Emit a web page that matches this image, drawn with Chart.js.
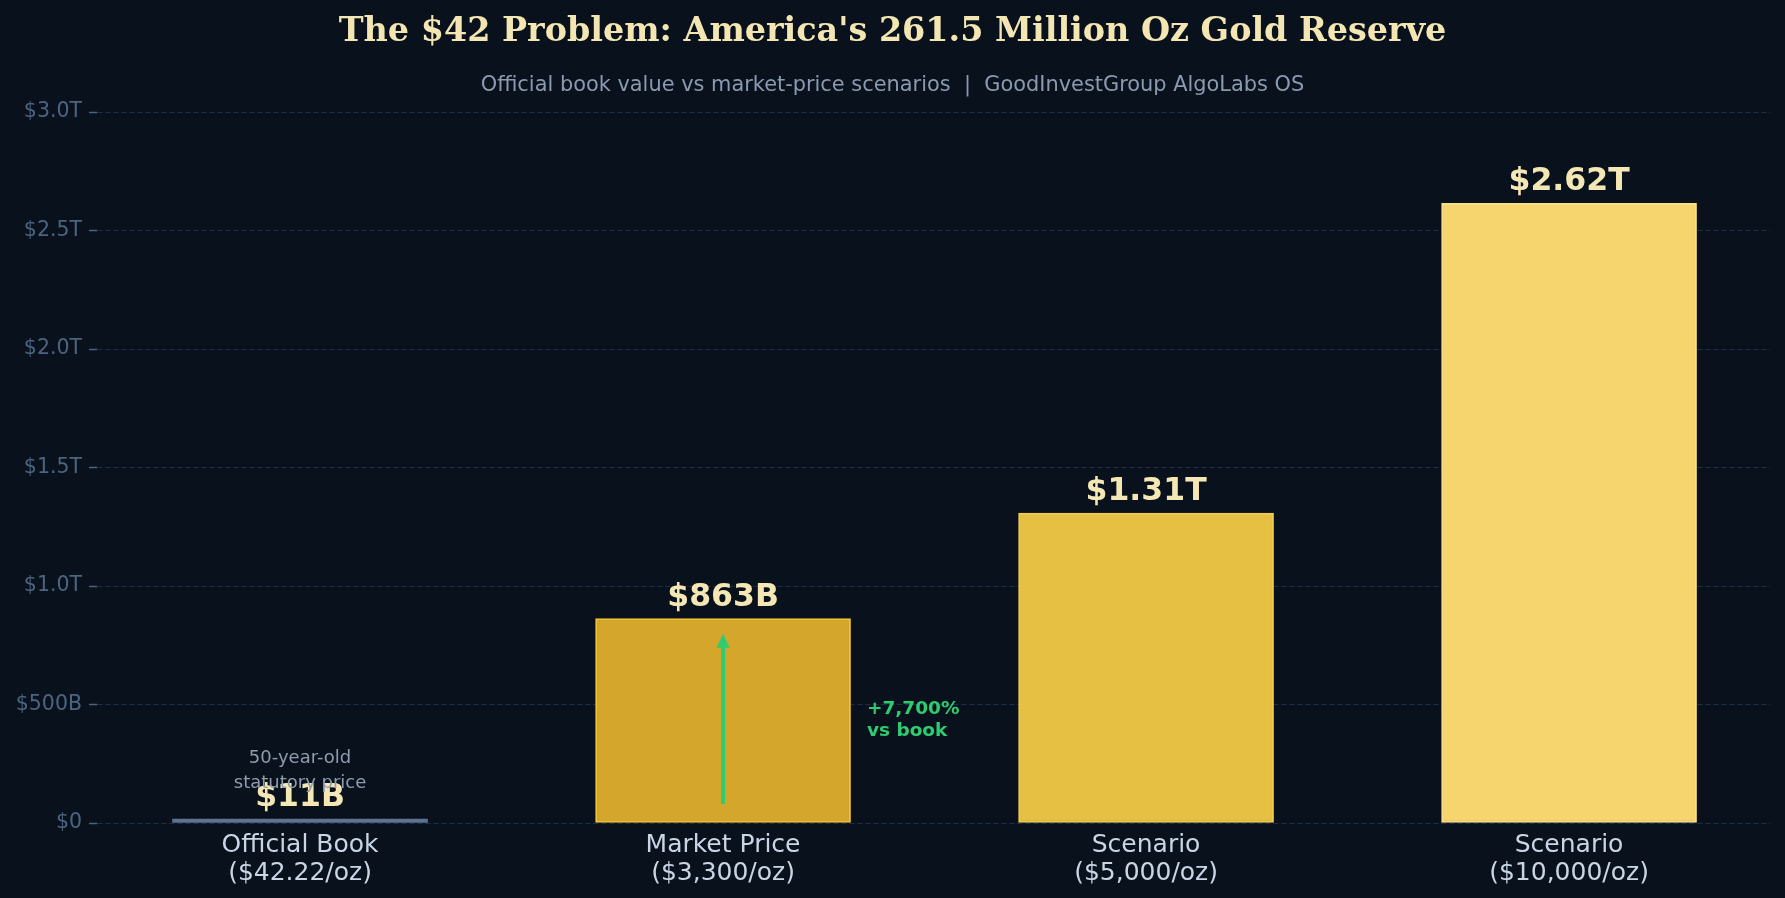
<!DOCTYPE html>
<html>
<head>
<meta charset="utf-8">
<script src="https://cdn.jsdelivr.net/npm/chart.js@4.4.1/dist/chart.umd.min.js"></script>
<style>
  html, body { margin: 0; padding: 0; background: #08111c; }
  #wrap { width: 1785px; height: 898px; }
</style>
</head>
<body>
<div id="wrap"><canvas id="goldChart" width="1785" height="898"></canvas></div>
<script>
// ---- data ----
const catTop    = ['Official Book', 'Market Price', 'Scenario', 'Scenario'];
const catBottom = ['($42.22/oz)', '($3,300/oz)', '($5,000/oz)', '($10,000/oz)'];
const valuesB   = [11.04, 862.95, 1307.5, 2615];   // $ billions
const valueLabels = ['$11B', '$863B', '$1.31T', '$2.62T'];
const yTicks    = [0, 500, 1000, 1500, 2000, 2500, 3000];

const TITLE    = "The $42 Problem: America's 261.5 Million Oz Gold Reserve";
const SUBTITLE = 'Official book value vs market-price scenarios  |  GoodInvestGroup AlgoLabs OS';

// annotations (data space)
const bookNote   = ['50-year-old', 'statutory price'];
const arrowFromB = 80;
const arrowToB   = 790;
const gainNote   = ['+7,700%', 'vs book'];

const BG = '#08111c';
const fills   = ['#5d7290', '#d4a72c', '#e6c043', '#f6d56e'];
const borders = ['#5d7290', '#f0c232', '#f3cc4f', '#fadf86'];

const fmtY = v => {
    if (v === 0) return '$0';
    if (v < 1000) return '$' + v + 'B';
    return '$' + (v / 1000).toFixed(1) + 'T';
};

// ---- custom drawing ----
const decor = {
    id: 'decor',
    beforeDraw(chart) {
        const ctx = chart.ctx;
        ctx.save();
        ctx.fillStyle = BG;
        ctx.fillRect(0, 0, chart.width, chart.height);
        ctx.restore();
    },
    afterDatasetsDraw(chart) {
        const ctx = chart.ctx;
        const xs = chart.scales.x, ys = chart.scales.y;
        const cx = chart.width / 2;
        ctx.save();

        // title + subtitle
        ctx.textAlign = 'center';
        ctx.textBaseline = 'middle';
        ctx.fillStyle = '#f3e6b3';
        ctx.font = 'bold 33.4px "DejaVu Serif"';
        ctx.fillText(TITLE, cx, 32);
        ctx.fillStyle = '#8b9ab0';
        ctx.font = '20.9px "DejaVu Sans"';
        ctx.fillText(SUBTITLE, cx, 86);

        // value labels above bars
        const meta = chart.getDatasetMeta(0);
        ctx.font = 'bold 31.5px "DejaVu Sans"';
        ctx.fillStyle = '#f5e7b5';
        meta.data.forEach((bar, i) => {
            ctx.fillText(valueLabels[i], bar.x, Math.min(bar.y, ys.getPixelForValue(0) - 4) - 21);
        });

        // note over the book bar
        ctx.font = '18px "DejaVu Sans"';
        ctx.fillStyle = '#8f9cae';
        const bx = xs.getPixelForValue(0);
        ctx.fillText(bookNote[0], bx, 758);
        ctx.fillText(bookNote[1], bx, 783);

        // green arrow inside market bar
        const ax = xs.getPixelForValue(1);
        const y0 = ys.getPixelForValue(arrowFromB);
        const y1 = ys.getPixelForValue(arrowToB);
        ctx.strokeStyle = '#2ecc71';
        ctx.fillStyle = '#2ecc71';
        ctx.lineWidth = 4;
        ctx.beginPath();
        ctx.moveTo(ax, y0);
        ctx.lineTo(ax, y1 + 10);
        ctx.stroke();
        ctx.beginPath();
        ctx.moveTo(ax, y1 - 2);
        ctx.lineTo(ax - 6.5, y1 + 12);
        ctx.lineTo(ax + 6.5, y1 + 12);
        ctx.closePath();
        ctx.fill();

        // gain note
        ctx.textAlign = 'left';
        ctx.font = 'bold 18.5px "DejaVu Sans"';
        const gx = xs.getPixelForValue(1.34);
        ctx.fillText(gainNote[0], gx, 709);
        ctx.fillText(gainNote[1], gx, 731);

        ctx.restore();
    }
};

new Chart(document.getElementById('goldChart'), {
    type: 'bar',
    data: {
        datasets: [{
            data: valuesB.map((v, i) => ({ x: i, y: v })),
            backgroundColor: fills,
            borderColor: borders,
            borderWidth: [0, 2, 2, 2],
            borderSkipped: false,
            barThickness: 255,
            minBarLength: 4,
        }]
    },
    options: {
        responsive: false,
        devicePixelRatio: 1,
        animation: false,
        layout: { padding: { top: 112, right: 15, bottom: 0, left: 0 } },
        plugins: {
            legend: { display: false },
            tooltip: { enabled: false },
        },
        scales: {
            x: {
                type: 'linear',
                offset: false,
                min: -0.48,
                max: 3.475,
                afterBuildTicks: scale => {
                    scale.ticks = catTop.map((c, i) => ({ value: i }));
                },
                afterFit: scale => { scale.height = 75; },
                grid: { display: false, offset: false },
                border: { display: false },
                ticks: {
                    padding: 1,
                    color: '#c9d5e5',
                    font: { family: 'DejaVu Sans', size: 25, lineHeight: 1.1 },
                    callback: v => [catTop[v], catBottom[v]],
                    maxRotation: 0,
                }
            },
            y: {
                min: 0,
                max: 3000,
                afterBuildTicks: scale => {
                    scale.ticks = yTicks.map(v => ({ value: v }));
                },
                afterFit: scale => { scale.width = 97; },
                grid: {
                    color: '#1e2e4a',
                    lineWidth: 1,
                    tickColor: '#4d6480',
                    tickLength: 8,
                    tickWidth: 1.5,
                    tickBorderDash: [],
                },
                border: { display: false, dash: [5.5, 2.5] },
                ticks: {
                    padding: 7,
                    color: '#4d6480',
                    font: { family: 'DejaVu Sans', size: 20.5 },
                    callback: v => fmtY(v),
                }
            }
        }
    },
    plugins: [decor]
});
</script>
</body>
</html>
